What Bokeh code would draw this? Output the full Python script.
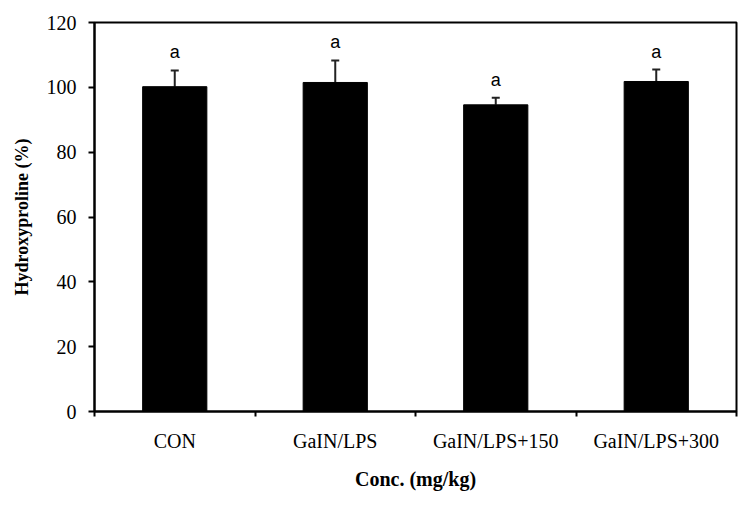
from bokeh.plotting import figure
from bokeh.models import (Range1d, LinearAxis, FixedTicker,
                          ColumnDataSource, Whisker, TeeHead)
from bokeh.core.properties import value
from bokeh.embed import file_html
from bokeh.resources import INLINE

categories = ["CON", "GaIN/LPS", "GaIN/LPS+150", "GaIN/LPS+300"]
means = [100.2, 101.5, 94.6, 101.8]
errors = [5.0, 6.8, 2.2, 3.7]
letters = ["a", "a", "a", "a"]
y_ticks = [0, 20, 40, 60, 80, 100, 120]

n = len(categories)
centers = [i + 0.5 for i in range(n)]
edge_ticks = list(range(n + 1))
upper = [m + e for m, e in zip(means, errors)]
src = ColumnDataSource(dict(x=centers, top=means, upper=upper, label=letters))

p = figure(x_range=Range1d(0, n), y_range=Range1d(0, 120),
           frame_width=642, frame_height=389,
           min_border_left=94, min_border_right=8, min_border_top=22, min_border_bottom=86,
           x_axis_type=None, output_backend="svg", toolbar_location=None)

p.xgrid.visible = False
p.ygrid.visible = False
p.outline_line_color = "black"
p.outline_line_width = 2
p.background_fill_color = "white"
p.border_fill_color = "white"

# y axis
ya = p.yaxis[0]
ya.ticker = FixedTicker(ticks=y_ticks)
ya.axis_line_width = 2
ya.axis_line_color = "black"
ya.major_tick_line_width = 2
ya.major_tick_out = 6
ya.major_tick_in = 0
ya.minor_tick_line_color = None
ya.major_label_text_font = "Liberation Serif"
ya.major_label_text_font_size = "20px"
ya.major_label_text_color = "black"
ya.major_label_standoff = 12
ya.axis_label = "Hydroxyproline (%)"
ya.axis_label_text_font = "Liberation Serif"
ya.axis_label_text_font_size = "18px"
ya.axis_label_text_font_style = "bold"
ya.axis_label_text_color = "black"
ya.axis_label_standoff = 12

# x tick axis (boundaries between groups)
tick_axis = LinearAxis(ticker=FixedTicker(ticks=edge_ticks),
                       major_label_overrides={t: "" for t in edge_ticks},
                       major_tick_out=5, major_tick_in=0, major_tick_line_width=2,
                       minor_tick_line_color=None, axis_line_width=2, axis_line_color="black",
                       major_label_standoff=0, major_label_text_font_size="1px")
p.add_layout(tick_axis, "below")

# category label axis
cat_axis = LinearAxis(ticker=FixedTicker(ticks=centers),
                      major_label_overrides={c: name for c, name in zip(centers, categories)},
                      axis_line_color=None, major_tick_line_color=None,
                      minor_tick_line_color=None,
                      major_label_text_font="Liberation Serif",
                      major_label_text_font_size="20px",
                      major_label_text_color="black",
                      major_label_standoff=7,
                      axis_label="Conc. (mg/kg)",
                      axis_label_text_font="Liberation Serif",
                      axis_label_text_font_size="20px",
                      axis_label_text_font_style="bold",
                      axis_label_text_color="black",
                      axis_label_standoff=13)
p.add_layout(cat_axis, "below")

p.vbar(x="x", top="top", width=0.4, source=src, fill_color="black", line_color="black")
w = Whisker(base="x", upper="upper", lower="top", source=src,
            line_color="#222222", line_width=2,
            upper_head=TeeHead(size=8, line_width=2, line_color="#222222"), lower_head=None)
p.add_layout(w)
p.text(x="x", y="upper", text="label", source=src, text_align="center", text_baseline="alphabetic",
       y_offset=-18, text_font=value("Liberation Sans"), text_font_size="18px", text_color="black")

open("out.html", "w").write(file_html(p, INLINE))
